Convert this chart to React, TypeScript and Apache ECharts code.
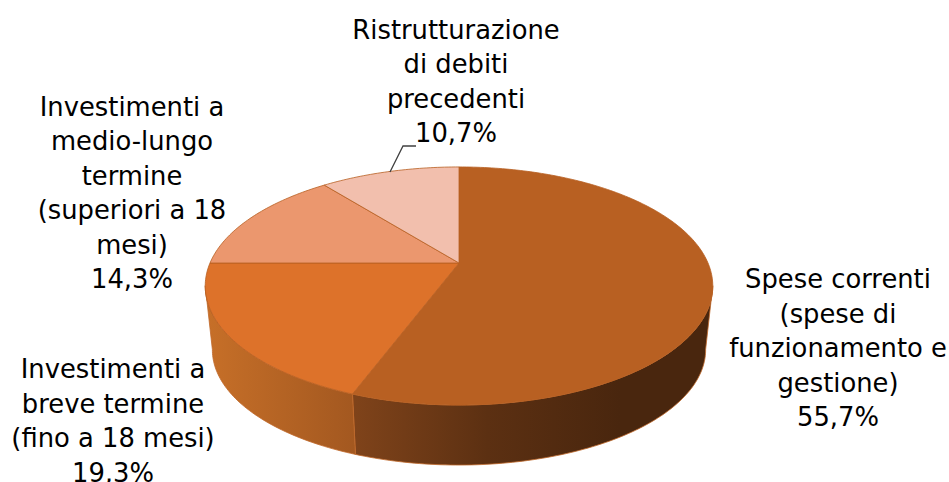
import React, { useEffect, useRef } from "react";
import * as echarts from "echarts";

const categories = [
  "Spese correnti\n(spese di\nfunzionamento e\ngestione)",
  "Investimenti a\nbreve termine\n(fino a 18 mesi)",
  "Investimenti a\nmedio-lungo\ntermine\n(superiori a 18\nmesi)",
  "Ristrutturazione\ndi debiti\nprecedenti",
];
const values = [55.7, 19.3, 14.3, 10.7];
const topColors = ["#B86022", "#DD722A", "#EB976E", "#F2BFAD"];

const FONT = '"DejaVu Sans", sans-serif';
const FONT_SIZE = 25.8;
const LINE_HEIGHT = 34.5;
const labelAnchors = [
  { x: 838, y: 348 },
  { x: 113, y: 421 },
  { x: 132, y: 193 },
  { x: 456, y: 81.5 },
];

const topDisc = { x: 459, y: 263, a: 249, b: 114.6, k: 0.193 };
const lowDisc = { x: 459, y: 327.5, a: 242, b: 111, k: 0.193 };
const WALL_FROM = 101;
const WALL_TO = 259;

type Disc = typeof topDisc;
const project = (d: Disc, deg: number): number[] => {
  const t = (deg * Math.PI) / 180;
  const u = Math.sin(t);
  const v = Math.cos(t);
  const w = 1 + d.k * v;
  return [d.x + (d.a * u) / w, d.y - (d.b * v) / w];
};
const arc = (d: Disc, from: number, to: number): number[][] => {
  const n = Math.max(2, Math.ceil(Math.abs(to - from)));
  const pts: number[][] = [];
  for (let i = 0; i <= n; i++) pts.push(project(d, from + ((to - from) * i) / n));
  return pts;
};

const total = values.reduce((s, v) => s + v, 0);
const sliceRange = (idx: number): number[] => {
  let acc = 0;
  for (let i = 0; i < idx; i++) acc += values[i];
  return [(acc / total) * 360, ((acc + values[idx]) / total) * 360];
};

const gradient = (x0: number, x1: number, stops: [number, string][]) => ({
  type: "linear",
  x: x0,
  y: 0,
  x2: x1,
  y2: 0,
  global: true,
  colorStops: stops.map(([offset, color]) => ({ offset, color })),
});

const wallFills: any[] = [
  gradient(355, 620, [
    [0, "#7F431A"],
    [0.5, "#5C3012"],
    [1, "#49260E"],
  ]),
  gradient(208, 355, [
    [0, "#C66F28"],
    [1, "#A35820"],
  ]),
];

const fmt = (v: number) => v.toFixed(1).replace(".", ",") + "%";

export default function App() {
  const ref = useRef<HTMLDivElement>(null);
  useEffect(() => {
    const chart = echarts.init(ref.current!, undefined, { renderer: "svg" });
    const seriesData = values.map((v, i) => [i, v]);
    chart.setOption({
      animation: false,
      backgroundColor: "#ffffff",
      series: [
        {
          type: "custom",
          coordinateSystem: "none",
          silent: true,
          z: 1,
          data: seriesData,
          renderItem: (_p: any, api: any) => {
            const i = api.value(0);
            const [s, e] = sliceRange(i);
            const from = Math.max(s, WALL_FROM);
            const to = Math.min(e, WALL_TO);
            if (to <= from) return { type: "group", children: [] };
            const pts = [...arc(topDisc, from, to), ...arc(lowDisc, to, from)];
            return {
              type: "polygon",
              shape: { points: pts },
              style: { fill: wallFills[i], stroke: "#C0682A", lineWidth: 0.8 },
            };
          },
        },
        {
          type: "custom",
          coordinateSystem: "none",
          silent: true,
          z: 2,
          data: seriesData,
          renderItem: (_p: any, api: any) => {
            const i = api.value(0);
            const [s, e] = sliceRange(i);
            const pts = [[topDisc.x, topDisc.y], ...arc(topDisc, s, e)];
            return {
              type: "polygon",
              shape: { points: pts },
              style: { fill: topColors[i], stroke: "#B86022", lineWidth: 0.8 },
            };
          },
        },
      ],
      graphic: [
        {
          type: "polyline",
          z: 5,
          shape: { points: [[390, 172], [403, 146], [416, 146]] },
          style: { stroke: "#404040", lineWidth: 1.3, fill: "none" },
        },
        ...categories.map((c, i) => ({
          type: "text",
          z: 6,
          x: labelAnchors[i].x,
          y: labelAnchors[i].y,
          style: {
            text: c + "\n" + fmt(values[i]),
            fill: "#000000",
            font: `${FONT_SIZE}px ${FONT}`,
            lineHeight: LINE_HEIGHT,
            align: "center",
            verticalAlign: "middle",
          },
        })),
      ],
    });
    return () => chart.dispose();
  }, []);
  return (
    <div
      ref={ref}
      style={{ position: "absolute", left: 0, top: 0, width: 949, height: 482, overflow: "hidden" }}
    />
  );
}
